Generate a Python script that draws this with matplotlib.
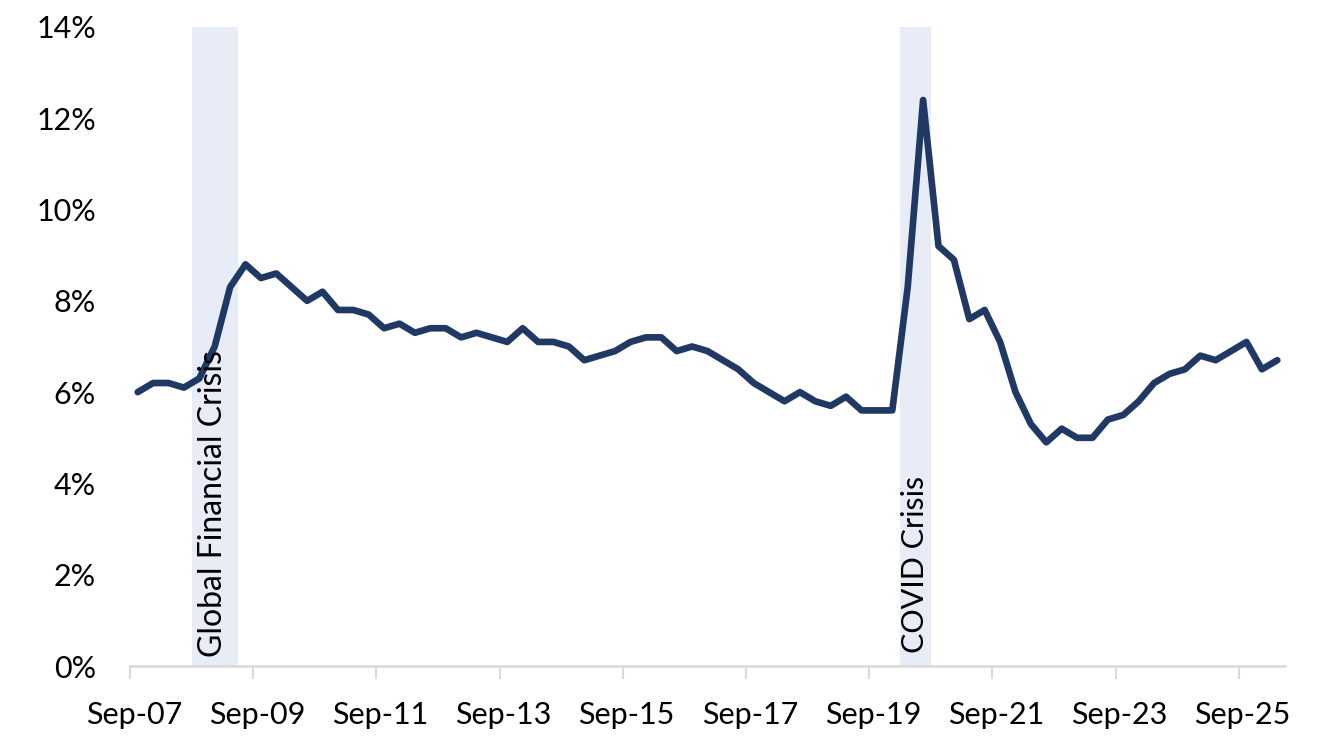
import matplotlib
matplotlib.use("Agg")
import matplotlib.pyplot as plt
import numpy as np

# Quarterly data, Sep-07 .. Mar-26 (percent)
values = [6.0, 6.2, 6.2, 6.1, 6.3, 7.0, 8.3, 8.8, 8.5, 8.6,
          8.3, 8.0, 8.2, 7.8, 7.8, 7.7, 7.4, 7.5, 7.3, 7.4,
          7.4, 7.2, 7.3, 7.2, 7.1, 7.4, 7.1, 7.1, 7.0, 6.7,
          6.8, 6.9, 7.1, 7.2, 7.2, 6.9, 7.0, 6.9, 6.7, 6.5,
          6.2, 6.0, 5.8, 6.0, 5.8, 5.7, 5.9, 5.6, 5.6, 5.6,
          8.3, 12.4, 9.2, 8.9, 7.6, 7.8, 7.1, 6.0, 5.3, 4.9,
          5.2, 5.0, 5.0, 5.4, 5.5, 5.8, 6.2, 6.4, 6.5, 6.8,
          6.7, 6.9, 7.1, 6.5, 6.7]
tick_labels = ["Sep-07", "Sep-09", "Sep-11", "Sep-13", "Sep-15",
               "Sep-17", "Sep-19", "Sep-21", "Sep-23", "Sep-25"]
yticks = [0, 2, 4, 6, 8, 10, 12, 14]
# crisis periods as (first quarter index, last quarter index)
gfc_period = (4, 6)
covid_period = (50, 51)

FONT = ["Lato", "DejaVu Sans"]
plt.rcParams['font.family'] = FONT

fig = plt.figure(figsize=(13.41, 7.42), dpi=100)
ax = fig.add_axes([130/1341, 76/742, (1285-130)/1341, (666-27)/742])

x = np.arange(len(values))
band_color = "#E8ECF7"
ax.axvspan(gfc_period[0]-0.5, gfc_period[1]+0.5, color=band_color, lw=0, zorder=0)
ax.axvspan(covid_period[0]-0.5, covid_period[1]+0.5, color=band_color, lw=0, zorder=0)

ax.plot(x, values, color="#203864", lw=4.8, solid_joinstyle="round",
        solid_capstyle="round", zorder=3)

ax.text(4.9, 0.2, "Global Financial Crisis", rotation=90, ha="center", va="bottom",
        fontsize=23, color="#000000", zorder=4)
ax.text(50.5, 0.28, "COVID Crisis", rotation=90, ha="center", va="bottom",
        fontsize=22, color="#000000", zorder=4)

ax.set_xlim(-0.5, len(values)-0.5)
ax.set_ylim(0, 14)

ax.set_yticks(yticks)
ax.set_yticklabels([f"{v}%" for v in yticks])
ax.tick_params(axis="y", length=0, pad=34/100*72, labelsize=22)

major = [i*8 - 0.5 for i in range(len(tick_labels))]
ax.set_xticks(major)
ax.set_xticklabels([""]*len(major))
ax.set_xticks([i*8 - 0.25 for i in range(len(tick_labels))], minor=True)
ax.set_xticklabels(tick_labels, minor=True)
ax.tick_params(axis="x", which="major", length=9, width=1.5, color="#D9D9D9")
ax.tick_params(axis="x", which="minor", length=0, pad=25, labelsize=22)

for s in ["top", "right", "left"]:
    ax.spines[s].set_visible(False)
ax.spines["bottom"].set_color("#D9D9D9")
ax.spines["bottom"].set_linewidth(1.8)

fig.savefig("out.png", dpi=100)
